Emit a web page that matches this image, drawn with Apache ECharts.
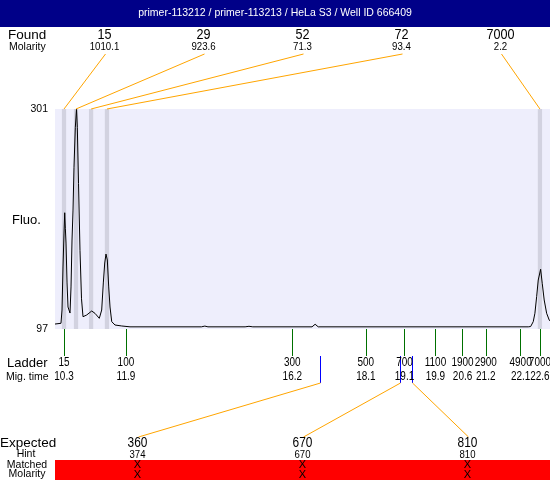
<!DOCTYPE html>
<html><head><meta charset="utf-8">
<script src="https://cdn.jsdelivr.net/npm/echarts@6/dist/echarts.min.js"></script>
<style>html,body{margin:0;padding:0;background:#fff}#c{width:550px;height:480px}</style>
</head><body><div id="c"></div>
<script>
const titleText = 'primer-113212 / primer-113213 / HeLa S3 / Well ID 666409';
// electropherogram trace: migration time (s) and fluorescence
const traceTime = [10.067,10.222,10.248,10.274,10.300,10.318,10.335,10.352,10.378,10.403,10.455,10.481,10.507,10.533,10.558,10.592,10.623,10.644,10.675,10.713,10.752,10.791,10.887,11.016,11.101,11.212,11.274,11.316,11.352,11.385,11.419,11.455,11.489,11.533,11.618,11.791,12.005,13.85,13.94,14.02,14.98,15.08,15.18,16.71,16.79,16.87,22.298,22.32,22.36,22.427,22.47,22.515,22.556,22.618,22.659,22.71,22.773,22.84,22.858];
const traceFluo = [101.6,102.3,114.6,154.5,186,204.8,190,176.7,139.7,117.4,111.8,136,179.5,207.3,247,284,301,284,232,170,125,108.4,110,113.7,111.5,106.9,114.6,139.7,158.2,166.5,161,136,117.4,103.8,100.7,99.8,99.0,99.0,99.7,99.0,99.0,99.5,99.0,99.0,101.4,99.0,99.0,99.8,99.3,103.8,111.6,127,142.4,152.4,139.4,123.9,111.6,105.3,104.5];
// found peaks
const foundSizes = [15, 29, 52, 72, 7000];
const foundMolarity = ['1010.1', '923.6', '71.3', '93.4', '2.2'];
const foundTimes = [10.30, 10.61, 11.00, 11.41, 22.60];
// ladder
const ladderSizes = [15, 100, 300, 500, 700, 1100, 1900, 2900, 4900, 7000];
const ladderTimes = [10.3, 11.9, 16.2, 18.1, 19.1, 19.9, 20.6, 21.2, 22.1, 22.6];
// expected
const expectedSizes = [360, 670, 810];
const expectedHints = [374, 670, 810];
const expectedTimes = [16.915, 18.98, 19.30];
// y tick labels
const yTicks = [97, 301];

const FONT = '"Liberation Sans", Arial, sans-serif';

const chart = echarts.init(document.getElementById('c'), null, {renderer: 'canvas'});
const option = {
  animation: false,
  backgroundColor: '#ffffff',
  title: {
    text: titleText, left: 'center', top: 8, padding: 0,
    textStyle: {color: '#ffffff', fontSize: 10.5, fontWeight: 'normal', fontFamily: FONT}
  },
  grid: {left: 55, right: 0, top: 109, bottom: 151, show: true, backgroundColor: '#EEEEFC', borderWidth: 0},
  xAxis: {
    type: 'value', min: 10.067, max: 22.86,
    axisLine: {show: false}, splitLine: {show: false},
    axisTick: {show: true, customValues: ladderTimes, length: 27, lineStyle: {color: '#007000', width: 1}},
    axisLabel: {show: false}
  },
  yAxis: {
    type: 'value', min: yTicks[0], max: yTicks[1],
    axisLine: {show: false}, splitLine: {show: false}, axisTick: {show: false},
    axisLabel: {customValues: yTicks, margin: 7, color: '#000', fontSize: 10.5, fontFamily: FONT}
  },
  series: [{
    type: 'line', data: traceTime.map((t, i) => [t, traceFluo[i]]),
    showSymbol: false, lineStyle: {color: '#000', width: 1}, z: 3,
    markArea: {
      silent: true, itemStyle: {color: '#D2D2E0'},
      data: foundTimes.map(t => [{xAxis: t - 0.055}, {xAxis: t + 0.055}])
    }
  }]
};
chart.setOption(option);

const px = t => chart.convertToPixel({xAxisIndex: 0}, t);
const PL = 55, PR = 550, PT = 109;
const g = [];
const txt = (text, x, y, size, align, sx) => g.push({
  type: 'text', x: x, y: y, z: 20, scaleX: sx || 1,
  style: {text: String(text), fill: '#000', font: size + 'px ' + FONT, align: align || 'center', verticalAlign: 'middle'}
});
const line = (x1, y1, x2, y2, color) => g.push({
  type: 'line', z: 15, shape: {x1, y1, x2, y2}, style: {stroke: color, lineWidth: 1}
});
g.push({type: 'rect', z: 0, shape: {x: 0, y: 0, width: 550, height: 27}, style: {fill: '#000088'}});
// found section
txt('Found', 8, 35, 13.5, 'left');
txt('Molarity', 9, 47, 10.5, 'left');
const nF = foundSizes.length, wF = (PR - PL) / nF;
foundSizes.forEach((s, i) => {
  const cx = PL + (i + 0.5) * wF;
  txt(s, cx, 35, 14, 'center', 0.9);
  txt(foundMolarity[i], cx, 47, 11, 'center', 0.88);
  line(cx + 1, 54, px(foundTimes[i]), PT, '#FFA500');
});
txt('Fluo.', 12, 220, 13, 'left');
// ladder labels
txt('Ladder', 7, 363, 13, 'left');
txt('Mig. time', 6, 377, 10.5, 'left');
ladderTimes.forEach((t, i) => {
  const x = px(t);
  txt(ladderSizes[i], x, 363, 12, 'center', 0.83);
  txt(t.toFixed(1), x, 377, 12, 'center', 0.83);
});
// expected
const nE = expectedSizes.length, wE = (PR - PL) / nE;
expectedSizes.forEach((s, i) => {
  const cx = PL + (i + 0.5) * wE;
  const ex = Math.round(px(expectedTimes[i])) + 0.5;
  line(ex, 356, ex, 383, '#0000FF');
  line(ex, 383, cx + 1, 437, '#FFA500');
  txt(s, cx, 443.5, 14, 'center', 0.85);
  txt(expectedHints[i], cx, 455, 11, 'center', 0.87);
  txt('X', cx, 465, 11);
  txt('X', cx, 474.5, 11);
});
g.push({type: 'rect', z: 10, shape: {x: PL, y: 460, width: PR - PL, height: 20}, style: {fill: '#FF0000'}});
txt('Expected', 0, 443.5, 13.5, 'left');
txt('Hint', 26, 454, 10.5);
txt('Matched', 27, 465, 10.5);
txt('Molarity', 27, 474.5, 10.5);
chart.setOption({graphic: {elements: g}});
</script></body></html>
